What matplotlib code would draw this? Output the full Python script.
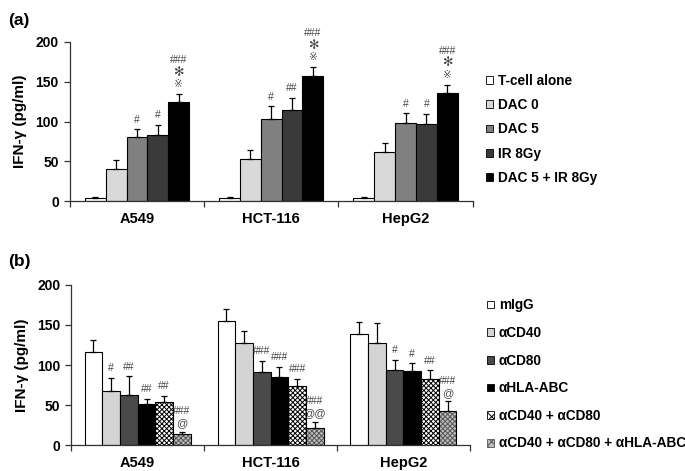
import numpy as np
import matplotlib
matplotlib.use('Agg')
import matplotlib.pyplot as plt
from matplotlib.patches import Patch

plt.rcParams['font.family'] = ['Liberation Sans', 'DejaVu Sans']
plt.rcParams['font.weight'] = 'bold'
plt.rcParams['hatch.linewidth'] = 0.7

cells = ['A549', 'HCT-116', 'HepG2']

# panel (a)
labels_a = ['T-cell alone', 'DAC 0', 'DAC 5', 'IR 8Gy', 'DAC 5 + IR 8Gy']
vals_a = [[3.4, 4.0, 4.3],
          [40.5, 53, 62],
          [80, 103.5, 98.5],
          [83.5, 115, 97.5],
          [124, 157, 135.5]]
err_a = [[1.5, 1.2, 1.2],
         [11.5, 11, 11],
         [10.5, 15.5, 12],
         [12.5, 15, 12.5],
         [10, 11, 10.5]]
marks_a = [['', '', ''],
           ['', '', ''],
           ['#', '#', '#'],
           ['#', '##', '#'],
           ['###', '###', '###']]

# panel (b)
labels_b = ['mIgG', 'αCD40', 'αCD80', 'αHLA-ABC', 'αCD40 + αCD80',
            'αCD40 + αCD80 + αHLA-ABC']
vals_b = [[116.5, 154.5, 139],
          [67.5, 127, 128],
          [62.5, 91, 94],
          [51, 85.5, 93],
          [54, 74, 83],
          [13.5, 21.5, 42]]
err_b = [[14.5, 15.5, 15],
         [16.5, 16, 24],
         [23.5, 14, 12.5],
         [6.5, 12.5, 9],
         [7.5, 8.5, 10.5],
         [2.5, 7, 12.5]]
marks_b = [['', '', ''],
           ['#', '', ''],
           ['##', '###', '#'],
           ['##', '###', '#'],
           ['##', '###', '##'],
           ['###', '###', '###']]
at_b = ['@', '@@', '@']

fc_a = ['white', '#d9d9d9', '#808080', '#3a3a3a', 'black']
fc_b = ['white', '#d4d4d4', '#4a4a4a', 'black', 'white', '#bdbdbd']
hatch_b = [None, None, None, None, 'xxxxxxx', 'xxxxxxx']
hcol_b = [None, None, None, None, 'black', '#555555']

fig = plt.figure(figsize=(6.85, 4.71), dpi=100)
ax1 = fig.add_axes([0.102, 0.573, 0.588, 0.338])
ax2 = fig.add_axes([0.104, 0.055, 0.582, 0.340])

x = np.arange(len(cells))
ann_col = '#444444'


def style_axis(ax):
    ax.set_xlim(-0.5, 2.5)
    ax.set_ylim(0, 200)
    ax.set_yticks([0, 50, 100, 150, 200])
    ax.set_xticks(x)
    ax.set_xticklabels(cells, fontsize=10.5, fontweight='bold')
    ax.set_xticks([-0.5, 0.5, 1.5, 2.5], minor=True)
    ax.tick_params(axis='x', which='major', length=0, pad=8)
    ax.tick_params(axis='x', which='minor', length=4, direction='out',
                   color='#333333', width=0.9)
    ax.tick_params(axis='y', length=4, direction='out', labelsize=10,
                   color='#333333', width=0.9, pad=4)
    for t in ax.get_yticklabels():
        t.set_fontweight('bold')
    for s in ['top', 'right']:
        ax.spines[s].set_visible(False)
    for s in ['left', 'bottom']:
        ax.spines[s].set_color('#333333')
        ax.spines[s].set_linewidth(0.9)
    ax.set_ylabel('IFN-γ (pg/ml)', fontsize=11, fontweight='bold', labelpad=6)


# ---- (a)
w = 0.155
n = len(labels_a)
handles = []
for i in range(n):
    pos = x + (i - (n - 1) / 2) * w
    ax1.bar(pos, vals_a[i], w, color=fc_a[i], edgecolor='black', linewidth=0.8,
            yerr=[np.zeros(3), err_a[i]], capsize=2,
            error_kw=dict(elinewidth=0.9, capthick=0.9, ecolor='black'))
    handles.append(Patch(facecolor=fc_a[i], edgecolor='black', linewidth=0.6,
                         label=labels_a[i]))
    for j in range(3):
        top = vals_a[i][j] + err_a[i][j]
        if marks_a[i][j]:
            yy = top + 12 if i < 4 else top + 43
            ax1.text(pos[j], yy, marks_a[i][j], ha='center', va='center',
                     fontsize=7.5, color=ann_col, fontweight='normal')
        if i == 4:
            ax1.text(pos[j], top + 28, '✻', ha='center', va='center',
                     fontsize=9, color=ann_col, fontweight='normal',
                     family='DejaVu Sans')
            ax1.text(pos[j], top + 13, '※', ha='center', va='center',
                     fontsize=7.5, color=ann_col, fontweight='normal',
                     family='DejaVu Sans')
style_axis(ax1)
ax1.legend(handles=handles, loc='upper left', bbox_to_anchor=(1.02, 0.835),
           frameon=False, fontsize=9.8, handlelength=0.5, handleheight=0.5,
           handletextpad=0.35, labelspacing=0.76, borderaxespad=0)
fig.text(0.012, 0.957, '(a)', fontsize=12.5, fontweight='bold', va='center')

# ---- (b)
w = 0.133
n = len(labels_b)
handles = []
for i in range(n):
    pos = x + (i - (n - 1) / 2) * w
    if hatch_b[i]:
        ax2.bar(pos, vals_b[i], w, color=fc_b[i], edgecolor=hcol_b[i],
                hatch=hatch_b[i], linewidth=0)
        ax2.bar(pos, vals_b[i], w, fill=False, edgecolor='black', linewidth=0.8,
                yerr=[np.zeros(3), err_b[i]], capsize=2,
                error_kw=dict(elinewidth=0.9, capthick=0.9, ecolor='black'))
        handles.append(Patch(facecolor=fc_b[i], edgecolor=hcol_b[i],
                             hatch='xxxx', linewidth=0.6, label=labels_b[i]))
    else:
        ax2.bar(pos, vals_b[i], w, color=fc_b[i], edgecolor='black',
                linewidth=0.8, yerr=[np.zeros(3), err_b[i]], capsize=2,
                error_kw=dict(elinewidth=0.9, capthick=0.9, ecolor='black'))
        handles.append(Patch(facecolor=fc_b[i], edgecolor='black',
                             linewidth=0.6, label=labels_b[i]))
    for j in range(3):
        top = vals_b[i][j] + err_b[i][j]
        if marks_b[i][j]:
            yy = top + 12 if i < 5 else top + 26
            ax2.text(pos[j], yy, marks_b[i][j], ha='center', va='center',
                     fontsize=7.5, color=ann_col, fontweight='normal')
        if i == 5:
            ax2.text(pos[j], top + 11, at_b[j], ha='center', va='center',
                     fontsize=8, color=ann_col, fontweight='normal')
style_axis(ax2)
ax2.legend(handles=handles, loc='upper left', bbox_to_anchor=(1.03, 0.95),
           frameon=False, fontsize=9.8, handlelength=0.5, handleheight=0.5,
           handletextpad=0.35, labelspacing=1.0, borderaxespad=0)
fig.text(0.012, 0.445, '(b)', fontsize=12.5, fontweight='bold', va='center')

fig.savefig('out.png', dpi=100)
